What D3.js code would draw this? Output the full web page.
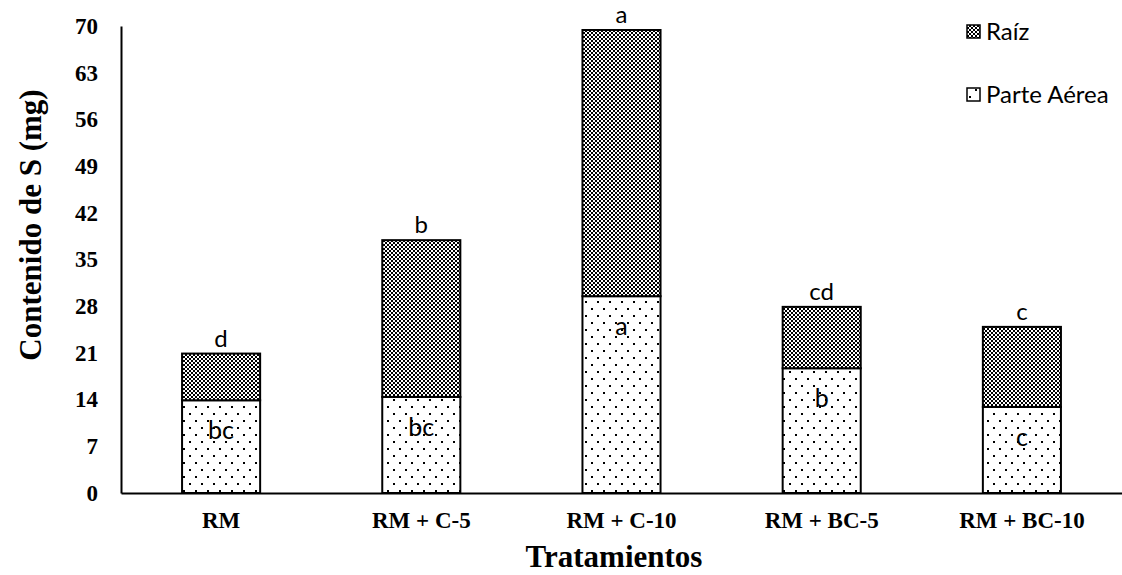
<!DOCTYPE html>
<html>
<head>
<meta charset="utf-8">
<script src="https://cdn.jsdelivr.net/npm/d3@7"></script>
<style>
  body { margin: 0; background: #fff; }
</style>
</head>
<body>
<div id="chart"></div>
<script>
// data
const treatments = ["RM", "RM + C-5", "RM + C-10", "RM + BC-5", "RM + BC-10"];
const parteAerea = [13.9, 14.4, 29.5, 18.7, 12.9];
const raiz = [7.0, 23.5, 39.9, 9.2, 12.0];
const lettersTop = ["d", "b", "a", "cd", "c"];
const lettersParte = ["bc", "bc", "a", "b", "c"];
const yTicks = [0, 7, 14, 21, 28, 35, 42, 49, 56, 63, 70];

const W = 1122, H = 575;
const margin = { top: 26, right: 0, bottom: 82, left: 121 };
const width = W - margin.left - margin.right;
const height = H - margin.top - margin.bottom;
const serif = "'Liberation Serif', 'Times New Roman', serif";
const letterFont = "Lato, 'Open Sans', sans-serif";

const svg = d3.select("#chart")
    .append("svg")
    .attr("width", W)
    .attr("height", H);

// fill patterns
const defs = svg.append("defs");
const checker = defs.append("pattern")
    .attr("id", "pat-raiz")
    .attr("patternUnits", "userSpaceOnUse")
    .attr("width", 4).attr("height", 4);
checker.append("rect").attr("width", 4).attr("height", 4).attr("fill", "#fff");
checker.append("rect").attr("x", 0).attr("y", 0).attr("width", 2).attr("height", 2).attr("fill", "#000");
checker.append("rect").attr("x", 2).attr("y", 2).attr("width", 2).attr("height", 2).attr("fill", "#000");

const dots = defs.append("pattern")
    .attr("id", "pat-parte")
    .attr("patternUnits", "userSpaceOnUse")
    .attr("width", 12).attr("height", 14);
dots.append("rect").attr("width", 12).attr("height", 14).attr("fill", "#fff");
dots.append("rect").attr("x", 2).attr("y", 2).attr("width", 2).attr("height", 2).attr("fill", "#000");
dots.append("rect").attr("x", 8).attr("y", 9).attr("width", 2).attr("height", 2).attr("fill", "#000");

const g = svg.append("g")
    .attr("transform", "translate(" + margin.left + "," + margin.top + ")");

const xScale = d3.scaleBand()
    .domain(treatments)
    .range([0, width])
    .paddingInner(0.61)
    .paddingOuter(0.305);

const yScale = d3.scaleLinear()
    .domain([0, 70])
    .range([height, 0]);

const rows = treatments.map((t, i) => ({
    t, parte: parteAerea[i], raiz: raiz[i],
    top: lettersTop[i], inner: lettersParte[i]
}));

// Parte Aérea segments
g.selectAll(".bar-parte")
    .data(rows)
    .enter().append("rect")
    .attr("class", "bar-parte")
    .attr("x", d => xScale(d.t))
    .attr("width", xScale.bandwidth())
    .attr("y", d => yScale(d.parte))
    .attr("height", d => height - yScale(d.parte))
    .attr("fill", "url(#pat-parte)")
    .attr("stroke", "#000")
    .attr("stroke-width", 2);

// Raíz segments
g.selectAll(".bar-raiz")
    .data(rows)
    .enter().append("rect")
    .attr("class", "bar-raiz")
    .attr("x", d => xScale(d.t))
    .attr("width", xScale.bandwidth())
    .attr("y", d => yScale(d.parte + d.raiz))
    .attr("height", d => yScale(d.parte) - yScale(d.parte + d.raiz))
    .attr("fill", "url(#pat-raiz)")
    .attr("stroke", "#000")
    .attr("stroke-width", 2);

// letters
g.selectAll(".lbl-top")
    .data(rows)
    .enter().append("text")
    .attr("class", "lbl-top")
    .attr("x", d => xScale(d.t) + xScale.bandwidth() / 2)
    .attr("y", d => yScale(d.parte + d.raiz) - 7)
    .attr("text-anchor", "middle")
    .style("font-family", letterFont)
    .style("font-size", "24px")
    .text(d => d.top);

g.selectAll(".lbl-in")
    .data(rows)
    .enter().append("text")
    .attr("class", "lbl-in")
    .attr("x", d => xScale(d.t) + xScale.bandwidth() / 2)
    .attr("y", d => yScale(d.parte) + 39)
    .attr("text-anchor", "middle")
    .style("font-family", letterFont)
    .style("font-size", "25px")
    .text(d => d.inner);

// axes
const xAxis = g.append("g")
    .attr("transform", "translate(0," + height + ")")
    .call(d3.axisBottom(xScale).tickSize(0).tickPadding(19));
xAxis.select(".domain").attr("stroke", "#000").attr("stroke-width", 2);
xAxis.selectAll("text")
    .attr("font-family", serif)
    .attr("font-weight", "bold")
    .attr("font-size", 23)
    .attr("fill", "#000");

const yAxis = g.append("g")
    .call(d3.axisLeft(yScale).tickValues(yTicks).tickSize(0).tickPadding(23));
yAxis.select(".domain").attr("stroke", "#000").attr("stroke-width", 2);
yAxis.selectAll("text")
    .attr("font-family", serif)
    .attr("font-weight", "bold")
    .attr("font-size", 23)
    .attr("fill", "#000");

// axis titles
svg.append("text")
    .attr("x", 614)
    .attr("y", 567)
    .attr("text-anchor", "middle")
    .attr("font-family", serif)
    .attr("font-weight", "bold")
    .attr("font-size", 31)
    .text("Tratamientos");

svg.append("text")
    .attr("transform", "rotate(-90)")
    .attr("x", -225)
    .attr("y", 41)
    .attr("text-anchor", "middle")
    .attr("font-family", serif)
    .attr("font-weight", "bold")
    .attr("font-size", 31)
    .text("Contenido de S (mg)");

// legend
const legendItems = [
    { name: "Raíz", fill: "url(#pat-raiz)", y: 31 },
    { name: "Parte Aérea", fill: "url(#pat-parte)", y: 94 }
];
const legend = svg.selectAll(".legend")
    .data(legendItems)
    .enter().append("g")
    .attr("class", "legend")
    .attr("transform", d => "translate(967," + d.y + ")");
legend.append("rect")
    .attr("x", 0).attr("y", -6)
    .attr("width", 13).attr("height", 13)
    .attr("fill", d => d.fill)
    .attr("stroke", "#000")
    .attr("stroke-width", 1.5);
legend.append("text")
    .attr("x", 19)
    .attr("y", 9)
    .style("font-family", letterFont)
    .style("font-size", "24px")
    .text(d => d.name);
</script>
</body>
</html>
